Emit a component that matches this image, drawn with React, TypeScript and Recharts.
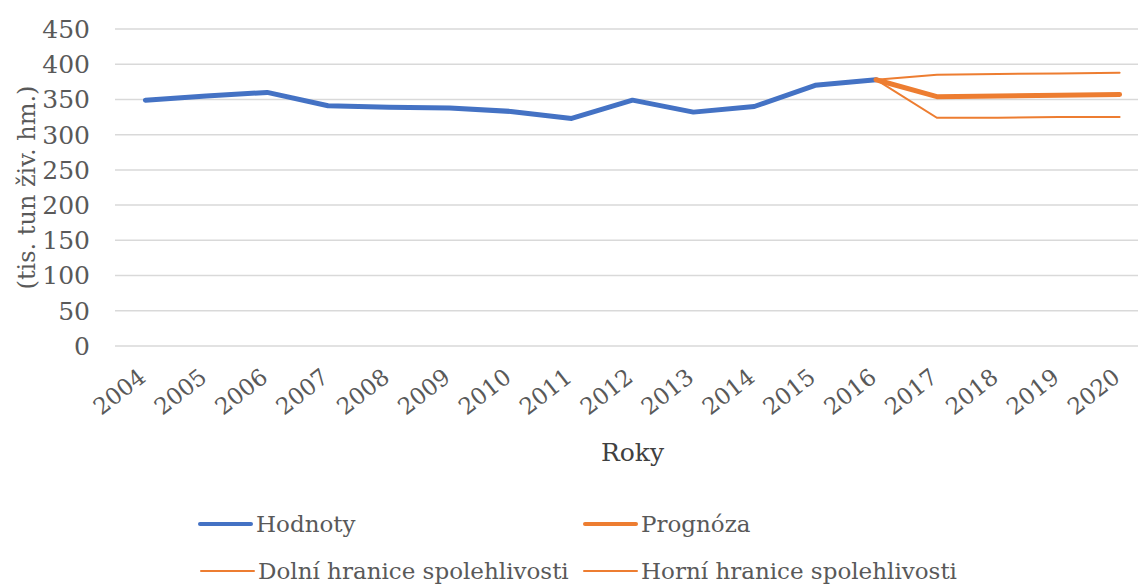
import React from "react";
import {
    LineChart,
    Line,
    XAxis,
    YAxis,
    CartesianGrid,
} from "recharts";

const years = [
    "2004", "2005", "2006", "2007", "2008", "2009", "2010", "2011", "2012",
    "2013", "2014", "2015", "2016", "2017", "2018", "2019", "2020",
];

const hodnoty = [349, 355, 360, 341, 339, 338, 333, 323, 349, 332, 340, 370, 378, null, null, null, null];
const prognoza = [null, null, null, null, null, null, null, null, null, null, null, null, 378, 354, 355, 356, 357];
const dolni = [null, null, null, null, null, null, null, null, null, null, null, null, 378, 324, 324, 325, 325];
const horni = [null, null, null, null, null, null, null, null, null, null, null, null, 378, 385, 386, 387, 388];

const yTicks = [0, 50, 100, 150, 200, 250, 300, 350, 400, 450];

const BLUE = "#4472C4";
const ORANGE = "#ED7D31";
const FONT = "DejaVu Serif";

const data = years.map((year, i) => ({
    year,
    hodnoty: hodnoty[i],
    prognoza: prognoza[i],
    dolni: dolni[i],
    horni: horni[i],
}));

// legend rows, Excel style: two columns
const legendItems = [
    { name: "Hodnoty", color: BLUE, width: 4, left: 198, top: 524 },
    { name: "Prognóza", color: ORANGE, width: 4, left: 583, top: 524 },
    { name: "Dolní hranice spolehlivosti", color: ORANGE, width: 2, left: 200, top: 571 },
    { name: "Horní hranice spolehlivosti", color: ORANGE, width: 2, left: 583, top: 571 },
];

const XTick = (props: any) => {
    const { x, y, payload } = props;
    const tx = x + 2;
    const ty = y + 34;
    return (
        <text
            x={tx}
            y={ty}
            textAnchor="end"
            transform={`rotate(-38, ${tx}, ${ty})`}
            fontSize={23}
            fill="#595959"
            style={{ fontFamily: FONT }}
        >
            {payload.value}
        </text>
    );
};

export default function App() {
    return (
        <div
            style={{
                position: "absolute",
                left: 0,
                top: 0,
                width: 1138,
                height: 585,
                overflow: "hidden",
                background: "#fff",
            }}
        >
            <LineChart
                width={1150}
                height={585}
                data={data}
                margin={{ top: 29, right: 0, left: 0, bottom: 0 }}
                style={{ fontFamily: FONT }}
            >
                <CartesianGrid vertical={false} stroke="#D9D9D9" strokeWidth={1.5} />
                <XAxis
                    dataKey="year"
                    interval={0}
                    height={239}
                    padding={{ left: 30.4, right: 30.4 }}
                    axisLine={false}
                    tickLine={false}
                    tickSize={0}
                    tickMargin={0}
                    tick={<XTick />}
                    label={{
                        value: "Roky",
                        position: "insideTop",
                        offset: 97,
                        fontSize: 25,
                        fill: "#404040",
                    }}
                />
                <YAxis
                    width={115}
                    domain={[0, 450]}
                    ticks={yTicks}
                    interval={0}
                    axisLine={false}
                    tickLine={false}
                    tickSize={0}
                    tickMargin={25}
                    tick={{ fontSize: 25, fill: "#595959" }}
                    label={{
                        value: "(tis. tun živ. hm.)",
                        angle: -90,
                        position: "center",
                        dx: -31,
                        fontSize: 24,
                        fill: "#595959",
                    }}
                />
                <Line
                    dataKey="hodnoty"
                    stroke={BLUE}
                    strokeWidth={5}
                    strokeLinecap="round"
                    strokeLinejoin="round"
                    dot={false}
                    activeDot={false}
                    isAnimationActive={false}
                />
                <Line
                    dataKey="prognoza"
                    stroke={ORANGE}
                    strokeWidth={5}
                    strokeLinecap="round"
                    strokeLinejoin="round"
                    dot={false}
                    activeDot={false}
                    isAnimationActive={false}
                />
                <Line
                    dataKey="dolni"
                    stroke={ORANGE}
                    strokeWidth={2}
                    strokeLinecap="round"
                    dot={false}
                    activeDot={false}
                    isAnimationActive={false}
                />
                <Line
                    dataKey="horni"
                    stroke={ORANGE}
                    strokeWidth={2}
                    strokeLinecap="round"
                    dot={false}
                    activeDot={false}
                    isAnimationActive={false}
                />
            </LineChart>
            {legendItems.map((item) => (
                <div
                    key={item.name}
                    style={{
                        position: "absolute",
                        left: item.left,
                        top: item.top - 18,
                        height: 36,
                        display: "flex",
                        alignItems: "center",
                        whiteSpace: "nowrap",
                    }}
                >
                    <div
                        style={{
                            width: 55,
                            height: item.width,
                            background: item.color,
                            borderRadius: item.width / 2,
                            marginRight: 3,
                        }}
                    />
                    <span style={{ fontSize: 23, color: "#595959", lineHeight: "36px", fontFamily: FONT }}>
                        {item.name}
                    </span>
                </div>
            ))}
        </div>
    );
}
